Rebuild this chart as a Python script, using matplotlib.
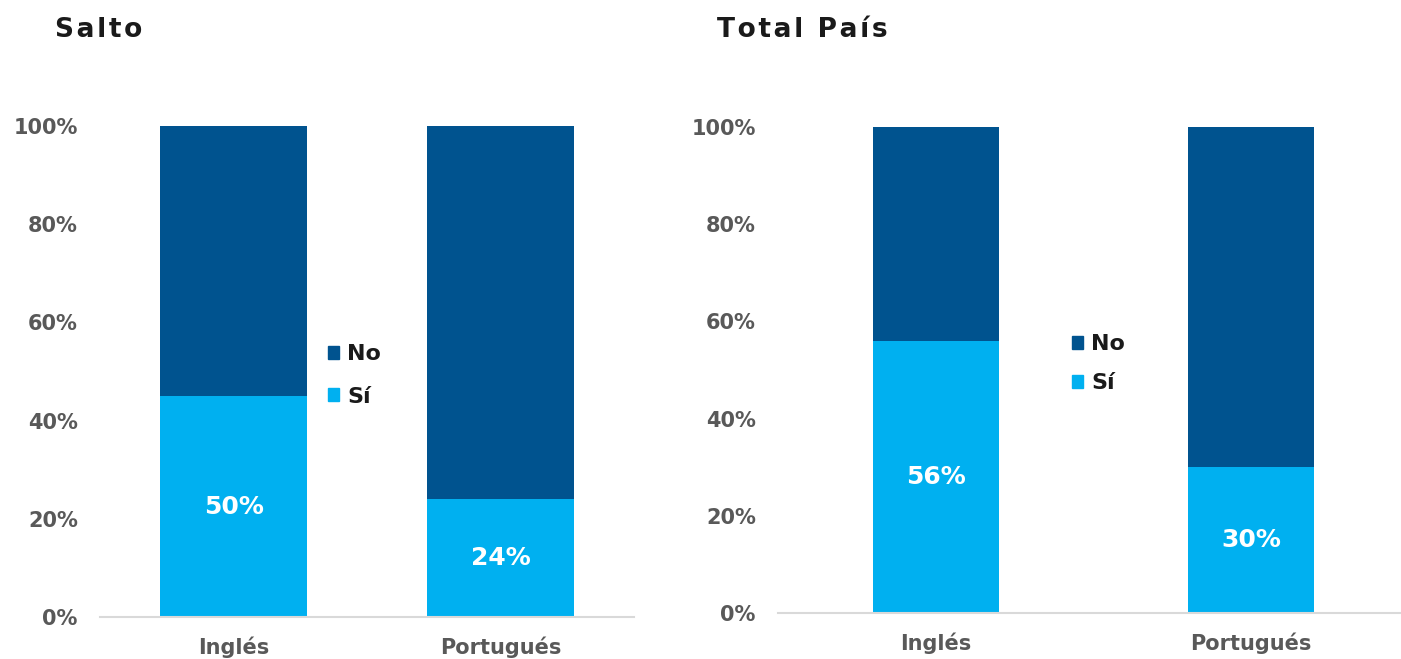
import matplotlib.pyplot as plt
from matplotlib.patches import Patch
from matplotlib.ticker import PercentFormatter

# Datos
categorias = ["Inglés", "Portugués"]
salto_si = [45, 24]          # altura dibujada de la barra
salto_no = [55, 76]
salto_etiquetas = ["50%", "24%"]
pais_si = [56, 30]
pais_no = [44, 70]
pais_etiquetas = ["56%", "30%"]

c_no = "#00538F"
c_si = "#00B0F0"
gris = "#595959"

plt.rcParams['font.family'] = ['DejaVu Sans']
fig = plt.figure(figsize=(14.01, 6.59), dpi=100)
W, H = 1401, 659


def espaciado(s):
    # títulos con letras separadas (hair space)
    return "\u200a".join(s)


def panel(pos, xlim, ancho, si, no, etiquetas, leg_pos, leg_esp, titulo, tx):
    ax = fig.add_axes(pos)
    x = range(len(categorias))
    ax.bar(x, si, width=ancho, color=c_si)
    ax.bar(x, no, width=ancho, bottom=si, color=c_no)
    for i, et in enumerate(etiquetas):
        ax.text(i, si[i] / 2, et, ha='center', va='center', color='white',
                fontsize=18, fontweight='bold')
    ax.set_xlim(*xlim)
    ax.set_ylim(0, 100)
    ax.set_yticks([0, 20, 40, 60, 80, 100])
    ax.yaxis.set_major_formatter(PercentFormatter(decimals=0))
    ax.set_xticks(list(x))
    ax.set_xticklabels(categorias)
    for s in ['top', 'right', 'left']:
        ax.spines[s].set_visible(False)
    ax.spines['bottom'].set_color('#D9D9D9')
    ax.spines['bottom'].set_linewidth(1.5)
    ax.tick_params(axis='both', length=0, labelsize=15, labelcolor=gris)
    ax.tick_params(axis='y', pad=16)
    ax.tick_params(axis='x', pad=14)
    for lab in ax.get_xticklabels() + ax.get_yticklabels():
        lab.set_fontweight('bold')
    handles = [Patch(color=c_no), Patch(color=c_si)]
    leg = ax.legend(handles, ["No", "Sí"], loc='center left', bbox_to_anchor=leg_pos,
                    frameon=False, fontsize=16, handlelength=0.5, handleheight=0.5,
                    handletextpad=0.35, labelspacing=leg_esp, borderpad=0,
                    borderaxespad=0)
    for t in leg.get_texts():
        t.set_fontweight('bold')
        t.set_color('#1A1A1A')
    fig.text(tx / W, 1 - 30 / H, espaciado(titulo), fontsize=19, fontweight='bold',
             color='#1A1A1A', va='center', ha='left')
    return ax


panel([100 / W, 42 / H, 534 / W, 491 / H], (-0.5, 1.5), 0.554,
      salto_si, salto_no, salto_etiquetas, (0.427, 0.492), 1.0, "Salto", 55)
panel([778 / W, 46 / H, 623 / W, 486 / H], (-0.5016, 1.476), 0.4,
      pais_si, pais_no, pais_etiquetas, (0.472, 0.513), 0.86, "Total País", 717)

fig.savefig("out.png", dpi=100)
